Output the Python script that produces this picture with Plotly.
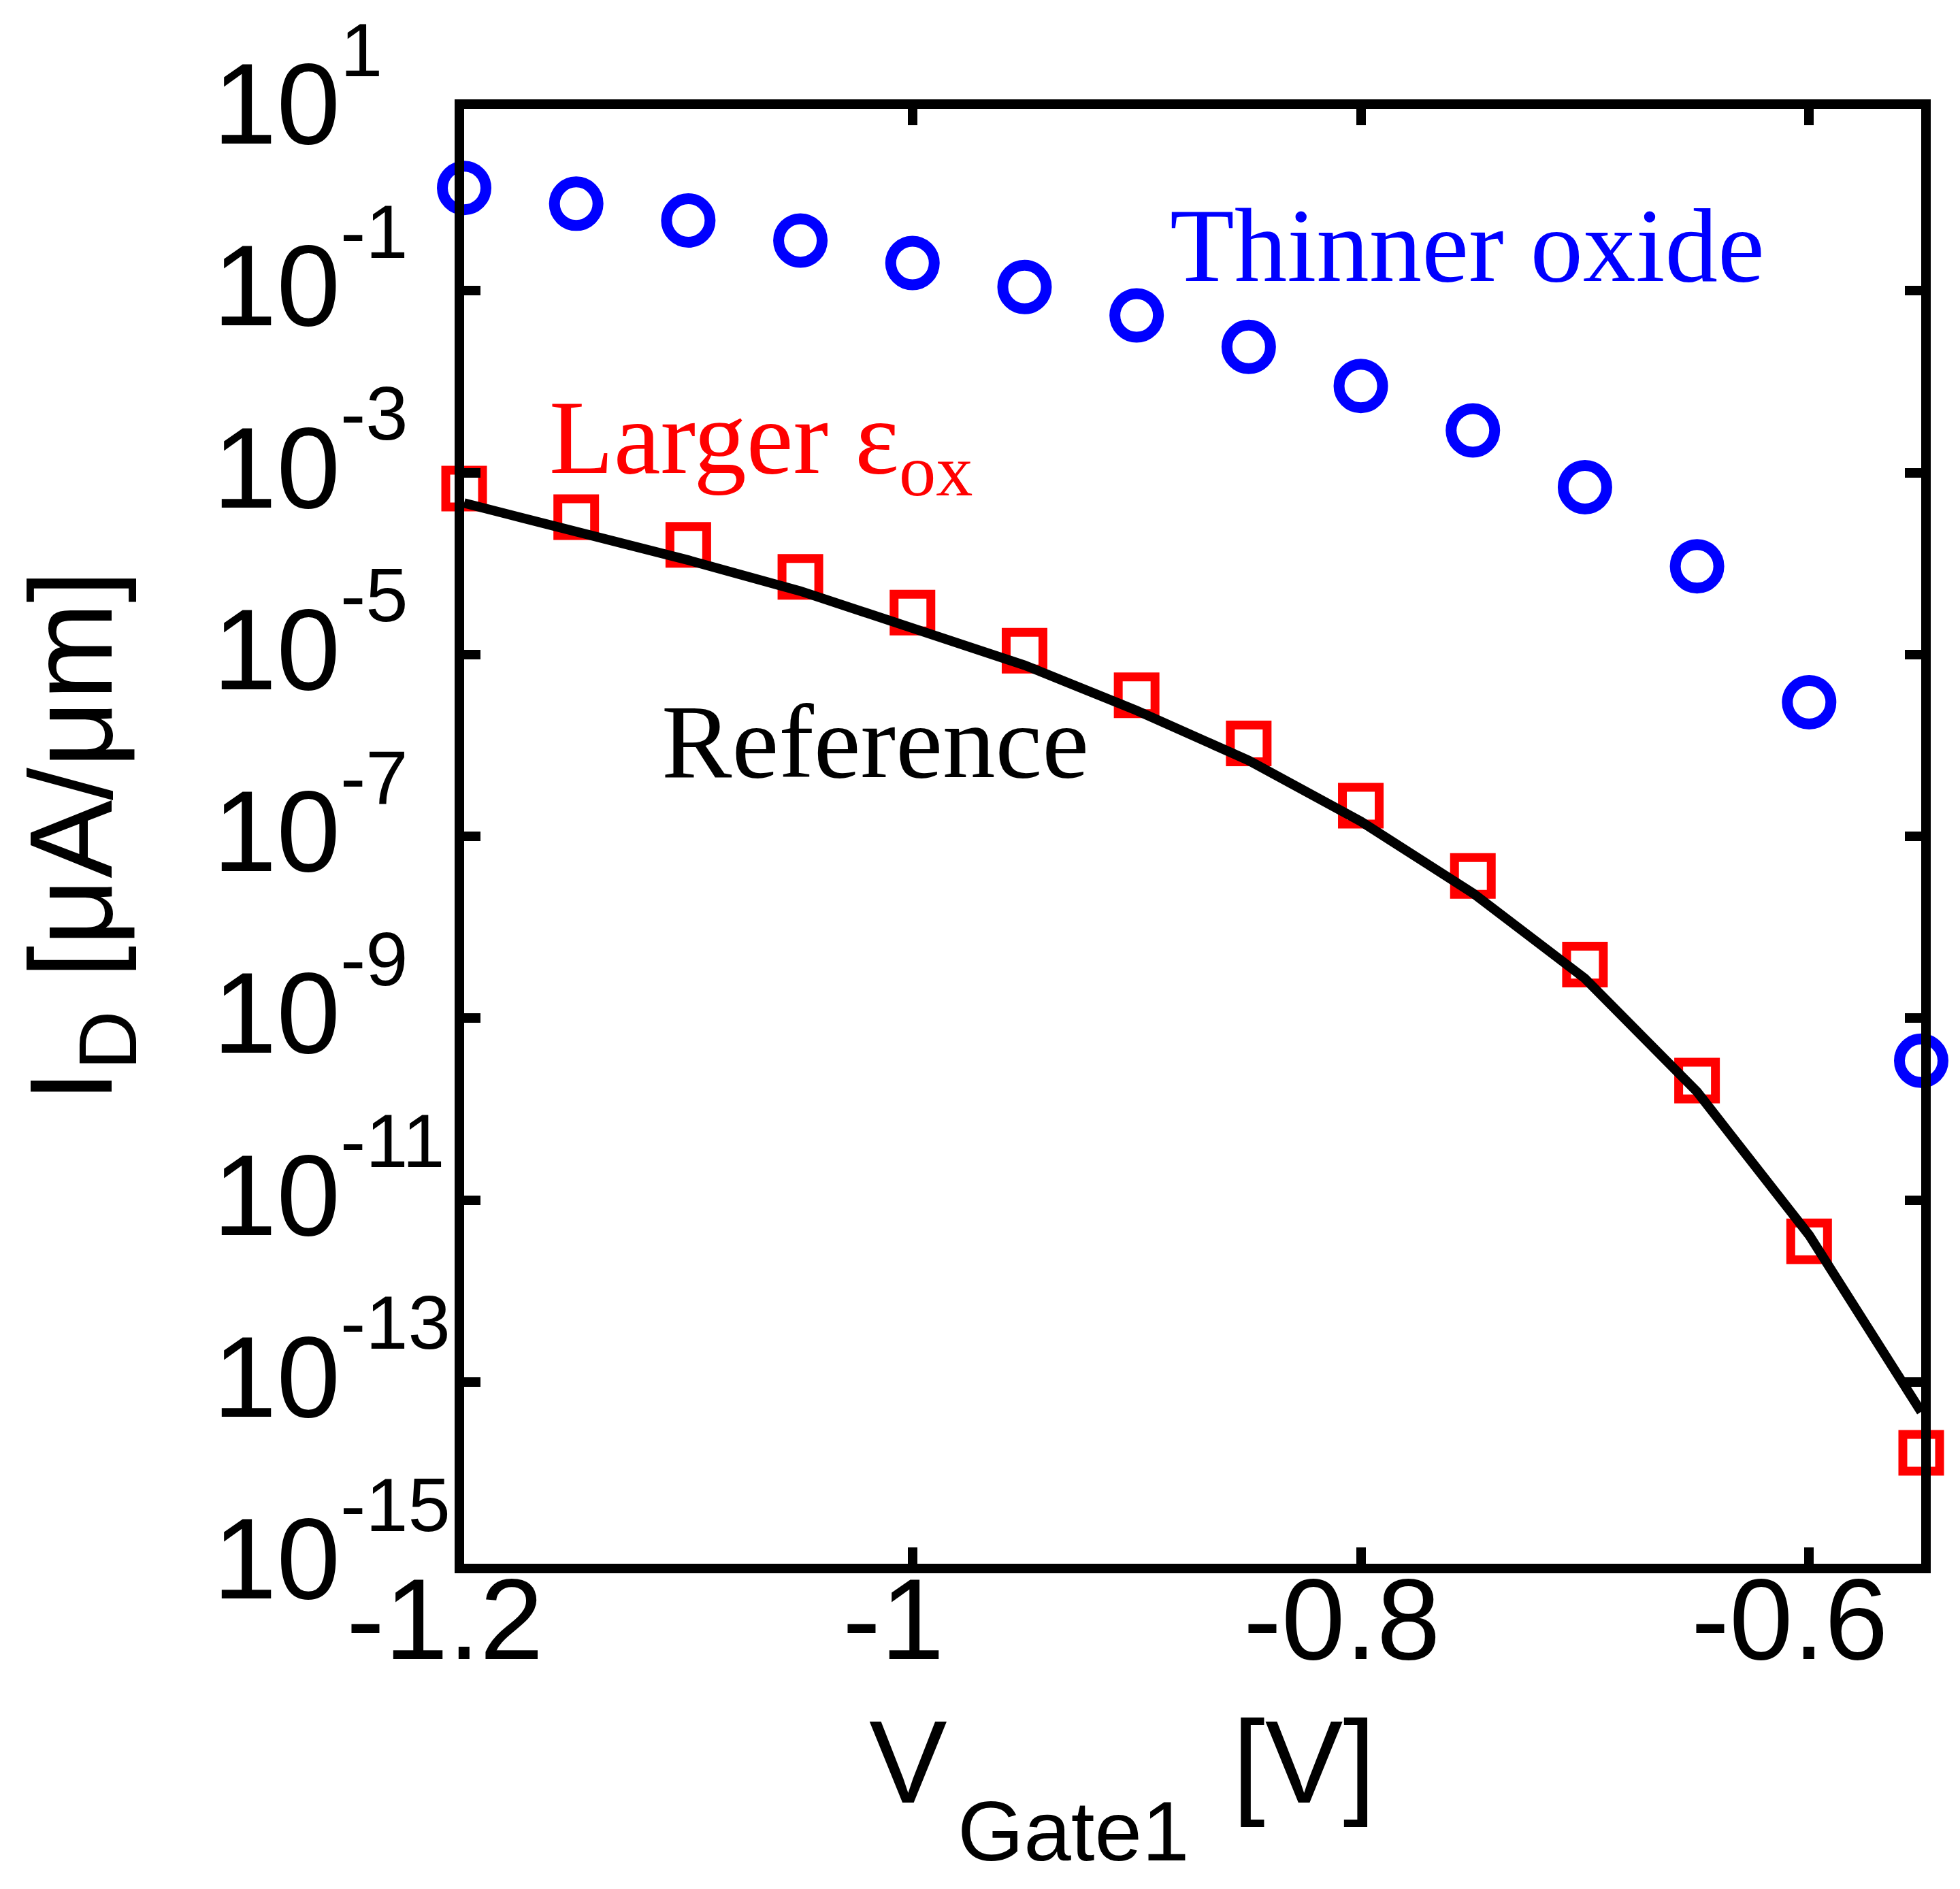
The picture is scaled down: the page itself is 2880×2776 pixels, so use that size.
import plotly.graph_objects as go

# gate voltage sweep [V]
v_gate = [-1.2, -1.15, -1.1, -1.05, -1.0, -0.95, -0.9, -0.85, -0.8, -0.75, -0.7, -0.65, -0.6, -0.55]

# drain current [uA/um]
i_thin_ox = [1.35, 0.906, 0.593, 0.357, 0.202, 0.110, 0.0535, 0.0241, 0.00895, 0.00291,
             6.9e-4, 9.3e-5, 2.98e-6, 3.4e-10]
i_large_eps = [6.67e-4, 3.23e-4, 1.60e-4, 7.13e-5, 2.88e-5, 1.10e-5, 3.56e-6, 1.05e-6,
               2.17e-7, 3.66e-8, 3.89e-9, 2.06e-10, 3.51e-12, 1.66e-14]
i_reference = [4.62e-4, 2.25e-4, 1.09e-4, 4.97e-5, 2.00e-5, 7.62e-6, 2.42e-6, 6.82e-7,
               1.46e-7, 2.37e-8, 2.73e-9, 1.55e-10, 4.11e-12, 4.68e-14]

x_ticks = [-1.2, -1.0, -0.8, -0.6]
x_ticktext = ["-1.2", "-1", "-0.8", "-0.6"]
y_exps = [1, -1, -3, -5, -7, -9, -11, -13, -15]

sans = "Liberation Sans, Arial, sans-serif"
serif = "Liberation Serif, Times New Roman, serif"

fig = go.Figure()
fig.add_trace(go.Scatter(x=v_gate, y=i_large_eps, mode="markers", cliponaxis=False,
                         marker=dict(symbol="square-open", size=54, color="#ff0000",
                                     line=dict(width=13))))
fig.add_trace(go.Scatter(x=v_gate, y=i_thin_ox, mode="markers", cliponaxis=False,
                         marker=dict(symbol="circle-open", size=64, color="#0000ff",
                                     line=dict(width=16))))
fig.add_trace(go.Scatter(x=v_gate, y=i_reference, mode="lines",
                         line=dict(color="black", width=14)))

# y tick labels: "10" and exponent placed separately (MATLAB style)
for e in y_exps:
    fig.add_annotation(x=-0.1733, xref="paper", y=e, yref="y", xanchor="left",
                       yanchor="middle", yshift=7, showarrow=False, text="10",
                       font=dict(family=sans, size=168, color="black"))
    fig.add_annotation(x=-0.0859, xref="paper", y=e, yref="y", xanchor="left",
                       yanchor="middle", yshift=87, showarrow=False, text=str(e),
                       font=dict(family=sans, size=112, color="black"))

# x tick labels
for xv, xt in zip(x_ticks, x_ticktext):
    fig.add_annotation(x=xv, xref="x", y=-0.0385, yref="paper", xanchor="center",
                       yanchor="middle", xshift=-28, showarrow=False, text=xt,
                       font=dict(family=sans, size=168, color="black"))

# x axis title: V, subscript Gate1, [V]
fig.add_annotation(x=0.2770, y=-0.1361, xref="paper", yref="paper", xanchor="left",
                   yanchor="middle", showarrow=False, text="V",
                   font=dict(family=sans, size=172, color="black"))
fig.add_annotation(x=0.3375, y=-0.1838, xref="paper", yref="paper", xanchor="left",
                   yanchor="middle", showarrow=False, text="Gate1",
                   font=dict(family=sans, size=125, color="black"))
fig.add_annotation(x=0.5262, y=-0.1361, xref="paper", yref="paper", xanchor="left",
                   yanchor="middle", showarrow=False, text="[V]",
                   font=dict(family=sans, size=172, color="black"))

fig.add_annotation(x=0.4833, y=0.9062, xref="paper", yref="paper", xanchor="left",
                   yanchor="middle", showarrow=False, text="Thinner oxide",
                   font=dict(family=serif, size=155, color="#0000ff"))
fig.add_annotation(x=0.0575, y=0.769, xref="paper", yref="paper", xanchor="left",
                   yanchor="middle", showarrow=False, text="Larger ε<sub>ox</sub>",
                   font=dict(family=serif, size=155, color="#ff0000"))
fig.add_annotation(x=0.1346, y=0.565, xref="paper", yref="paper", xanchor="left",
                   yanchor="middle", showarrow=False, text="Reference",
                   font=dict(family=serif, size=155, color="black"))

fig.update_layout(
    width=2880, height=2776,
    margin=dict(l=674, r=65, t=152, b=486),
    paper_bgcolor="white", plot_bgcolor="white",
    showlegend=False,
    xaxis=dict(range=[-1.2, -0.55], tickvals=x_ticks, showticklabels=False,
               ticks="inside", ticklen=24, tickwidth=14, tickcolor="black",
               showline=True, linewidth=14, linecolor="black", mirror="ticks",
               showgrid=False, zeroline=False),
    yaxis=dict(type="log", range=[-15, 1], tickvals=[10.0 ** e for e in y_exps],
               showticklabels=False,
               ticks="inside", ticklen=24, tickwidth=14, tickcolor="black",
               showline=True, linewidth=14, linecolor="black", mirror="ticks",
               showgrid=False, zeroline=False,
               title=dict(text="I<sub>D</sub> [μA/μm]", standoff=480,
                          font=dict(family=sans, size=172, color="black"))),
)

fig.write_html("out.html")
